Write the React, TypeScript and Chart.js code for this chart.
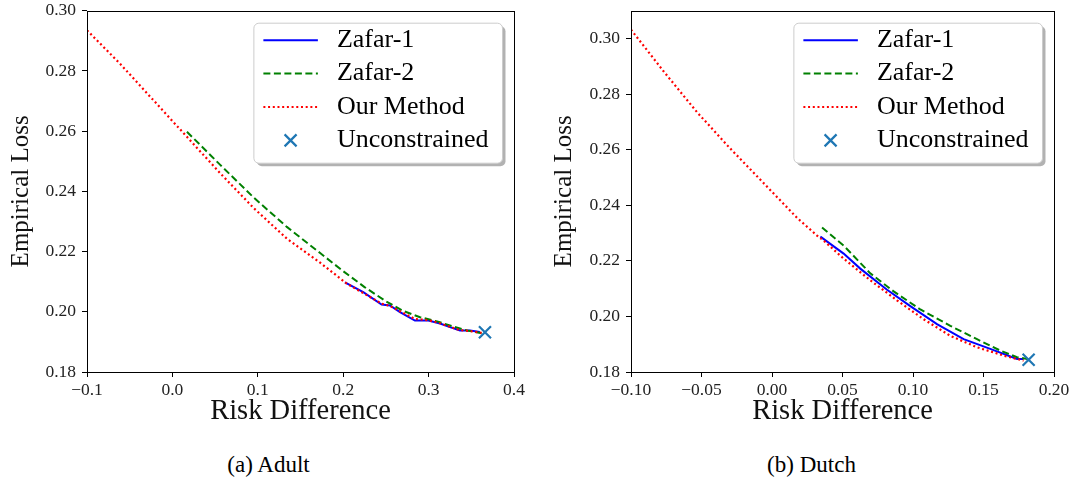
import React, { useEffect, useRef } from 'react';
import { Chart, registerables } from 'chart.js';

Chart.register(...registerables);

const FONT = "'Liberation Serif', 'Times New Roman', serif";

// ---------- (a) Adult ----------
const adultZafar1X = [0.202, 0.2235, 0.245, 0.2548, 0.2665, 0.284, 0.2997, 0.3134, 0.325, 0.3368, 0.3485, 0.36];
const adultZafar1Y = [0.2098, 0.2065, 0.2024, 0.2021, 0.1999, 0.1971, 0.1971, 0.1961, 0.1949, 0.1938, 0.1938, 0.1933];
const adultZafar2X = [0.017, 0.056, 0.095, 0.134, 0.173, 0.2, 0.225, 0.25, 0.27, 0.29, 0.31, 0.33, 0.345, 0.362];
const adultZafar2Y = [0.2598, 0.2488, 0.238, 0.2282, 0.2195, 0.2135, 0.2082, 0.2035, 0.2003, 0.1982, 0.1968, 0.195, 0.1938, 0.1929];
const adultOursX = [-0.1, -0.061, -0.022, 0.017, 0.056, 0.095, 0.134, 0.173, 0.204, 0.2235, 0.245, 0.2548, 0.2665, 0.284, 0.2997, 0.3134, 0.325, 0.3368, 0.3485, 0.362];
const adultOursY = [0.2935, 0.2823, 0.2702, 0.2581, 0.246, 0.2345, 0.2243, 0.2163, 0.2094, 0.2062, 0.2027, 0.2019, 0.2002, 0.1976, 0.1972, 0.1962, 0.195, 0.1939, 0.1936, 0.193];
const adultBaseX = [0.366];
const adultBaseY = [0.1932];
const adultXTicks = [-0.1, 0.0, 0.1, 0.2, 0.3, 0.4];
const adultXTickLabels = ['\u22120.1', '0.0', '0.1', '0.2', '0.3', '0.4'];
const adultYTicks = [0.18, 0.2, 0.22, 0.24, 0.26, 0.28, 0.3];
const adultYTickLabels = ['0.18', '0.20', '0.22', '0.24', '0.26', '0.28', '0.30'];

// ---------- (b) Dutch ----------
const dutchZafar1X = [0.0343, 0.0508, 0.0626, 0.0816, 0.0981, 0.117, 0.1359, 0.1548, 0.1738, 0.1784];
const dutchZafar1Y = [0.2287, 0.2226, 0.2172, 0.2096, 0.2037, 0.1972, 0.1918, 0.1883, 0.1847, 0.1847];
const dutchZafar2X = [0.0355, 0.0508, 0.0697, 0.0863, 0.1052, 0.1265, 0.1454, 0.1619, 0.1738, 0.181];
const dutchZafar2Y = [0.232, 0.2255, 0.2155, 0.209, 0.2025, 0.1966, 0.1918, 0.1877, 0.1853, 0.1847];
const dutchOursX = [-0.1, -0.0769, -0.0532, -0.0296, -0.006, 0.0177, 0.0319, 0.0366, 0.0508, 0.0697, 0.0886, 0.1075, 0.1265, 0.1454, 0.1643, 0.1784];
const dutchOursY = [0.3032, 0.2882, 0.2735, 0.2604, 0.248, 0.2355, 0.2291, 0.2273, 0.2208, 0.213, 0.2058, 0.199, 0.193, 0.1889, 0.1859, 0.1841];
const dutchBaseX = [0.182];
const dutchBaseY = [0.1844];
const dutchXTicks = [-0.1, -0.05, 0.0, 0.05, 0.1, 0.15, 0.2];
const dutchXTickLabels = ['\u22120.10', '\u22120.05', '0.00', '0.05', '0.10', '0.15', '0.20'];
const dutchYTicks = [0.18, 0.2, 0.22, 0.24, 0.26, 0.28, 0.3];
const dutchYTickLabels = ['0.18', '0.20', '0.22', '0.24', '0.26', '0.28', '0.30'];

const seriesLabels = ['Zafar-1', 'Zafar-2', 'Our Method', 'Unconstrained'];

function pts(xs: number[], ys: number[]) {
  return xs.map((x, i) => ({ x, y: ys[i] }));
}

function lineDs(label: string, xs: number[], ys: number[], color: string, dash: number[], width: number, order: number) {
  return {
    label,
    data: pts(xs, ys),
    borderColor: color,
    backgroundColor: color,
    borderWidth: width,
    borderDash: dash,
    pointRadius: 0,
    pointHoverRadius: 0,
    showLine: true,
    fill: false,
    tension: 0,
    order,
  };
}

function roundRect(ctx: CanvasRenderingContext2D, x: number, y: number, w: number, h: number, r: number) {
  ctx.beginPath();
  ctx.moveTo(x + r, y);
  ctx.lineTo(x + w - r, y);
  ctx.arcTo(x + w, y, x + w, y + r, r);
  ctx.lineTo(x + w, y + h - r);
  ctx.arcTo(x + w, y + h, x + w - r, y + h, r);
  ctx.lineTo(x + r, y + h);
  ctx.arcTo(x, y + h, x, y + h - r, r);
  ctx.lineTo(x, y + r);
  ctx.arcTo(x, y, x + r, y, r);
  ctx.closePath();
}

const framePlugin = {
  id: 'frameBox',
  afterDatasetsDraw(chart: any) {
    const { ctx, chartArea } = chart;
    ctx.save();
    ctx.strokeStyle = '#000';
    ctx.lineWidth = 1;
    const l = Math.round(chartArea.left) + 0.5;
    const t = Math.round(chartArea.top) + 0.5;
    const r = Math.round(chartArea.right) + 0.5;
    const b = Math.round(chartArea.bottom) + 0.5;
    ctx.strokeRect(l, t, r - l, b - t);
    ctx.restore();
  },
};

const legendPlugin = {
  id: 'boxLegend',
  afterDraw(chart: any) {
    const { ctx, chartArea } = chart;
    const ds = chart.data.datasets;
    ctx.save();
    ctx.font = `26px ${FONT}`;
    let maxW = 0;
    ds.forEach((d: any) => {
      maxW = Math.max(maxW, ctx.measureText(d.label).width);
    });
    const W = 83 + maxW + 14;
    const H = 140;
    const x0 = chartArea.right - 11.5 - W;
    const y0 = chartArea.top + 12.5;
    roundRect(ctx, x0 + 3, y0 + 3, W, H, 5);
    ctx.fillStyle = 'rgba(0,0,0,0.3)';
    ctx.fill();
    roundRect(ctx, x0, y0, W, H, 5);
    ctx.fillStyle = '#fff';
    ctx.fill();
    ctx.strokeStyle = '#cccccc';
    ctx.lineWidth = 1;
    ctx.stroke();
    ds.forEach((d: any, i: number) => {
      const y = y0 + 17 + i * 33.4;
      if (d.showLine === false) {
        const cx = x0 + 36.7;
        const h = 6;
        ctx.beginPath();
        ctx.strokeStyle = d.pointBorderColor;
        ctx.lineWidth = 2.2;
        ctx.setLineDash([]);
        ctx.moveTo(cx - h, y - h);
        ctx.lineTo(cx + h, y + h);
        ctx.moveTo(cx - h, y + h);
        ctx.lineTo(cx + h, y - h);
        ctx.stroke();
      } else {
        ctx.beginPath();
        ctx.setLineDash(d.borderDash || []);
        ctx.strokeStyle = d.borderColor;
        ctx.lineWidth = d.borderWidth;
        ctx.moveTo(x0 + 9.5, y);
        ctx.lineTo(x0 + 64, y);
        ctx.stroke();
        ctx.setLineDash([]);
      }
      ctx.fillStyle = '#000';
      ctx.textBaseline = 'middle';
      ctx.textAlign = 'left';
      ctx.fillText(d.label, x0 + 83, y);
    });
    ctx.restore();
  },
};

interface PanelCfg {
  z1x: number[]; z1y: number[];
  z2x: number[]; z2y: number[];
  ox: number[]; oy: number[];
  bx: number[]; by: number[];
  xMin: number; xMax: number; yMin: number; yMax: number;
  xTicks: number[]; xTickLabels: string[];
  yTicks: number[]; yTickLabels: string[];
  padTop: number; padRight: number; yAxisWidth: number; yTitlePad: number;
  width: number; height: number;
}

function buildConfig(c: PanelCfg): any {
  const tickFont = { family: FONT, size: 17.5 };
  return {
    type: 'scatter',
    data: {
      datasets: [
        lineDs(seriesLabels[0], c.z1x, c.z1y, '#0000ff', [], 2, 4),
        lineDs(seriesLabels[1], c.z2x, c.z2y, '#008000', [7, 3.5], 2, 3),
        lineDs(seriesLabels[2], c.ox, c.oy, '#ff0000', [2, 2.7], 2.2, 2),
        {
          label: seriesLabels[3],
          data: pts(c.bx, c.by),
          showLine: false,
          pointStyle: 'crossRot',
          pointRadius: 8.5,
          pointHoverRadius: 8.5,
          pointBorderColor: '#1f77b4',
          pointBackgroundColor: '#1f77b4',
          pointBorderWidth: 2.2,
          borderColor: '#1f77b4',
          backgroundColor: '#1f77b4',
          order: 1,
        },
      ],
    },
    options: {
      responsive: false,
      animation: false,
      events: [],
      layout: { padding: { left: 0, top: c.padTop, right: c.padRight, bottom: 0 } },
      plugins: {
        legend: { display: false },
        tooltip: { enabled: false },
      },
      scales: {
        x: {
          type: 'linear',
          min: c.xMin,
          max: c.xMax,
          bounds: 'data',
          afterBuildTicks: (s: any) => {
            s.ticks = c.xTicks.map((v) => ({ value: v }));
          },
          afterFit: (s: any) => {
            s.height = 68;
            s.paddingLeft = 0;
            s.paddingRight = 0;
          },
          ticks: {
            callback: (_v: any, i: number) => c.xTickLabels[i],
            font: tickFont,
            color: '#222',
            padding: 3,
            maxRotation: 0,
            autoSkip: false,
          },
          grid: { drawOnChartArea: false, drawTicks: true, tickLength: 5, color: '#000', lineWidth: 1 },
          border: { display: false },
          title: {
            display: true,
            text: 'Risk Difference',
            color: '#111',
            font: { family: FONT, size: 28.5, lineHeight: 1 },
            padding: { top: 0, bottom: 14.5 },
          },
        },
        y: {
          type: 'linear',
          min: c.yMin,
          max: c.yMax,
          bounds: 'data',
          afterBuildTicks: (s: any) => {
            s.ticks = c.yTicks.map((v) => ({ value: v }));
          },
          afterFit: (s: any) => {
            s.width = c.yAxisWidth;
            s.paddingTop = 0;
            s.paddingBottom = 0;
          },
          ticks: {
            callback: (_v: any, i: number) => c.yTickLabels[i],
            font: tickFont,
            color: '#222',
            padding: 6,
            autoSkip: false,
          },
          grid: { drawOnChartArea: false, drawTicks: true, tickLength: 5, color: '#000', lineWidth: 1 },
          border: { display: false },
          title: {
            display: true,
            text: 'Empirical Loss',
            color: '#111',
            font: { family: FONT, size: 25, lineHeight: 1 },
            padding: { top: c.yTitlePad, bottom: 0 },
          },
        },
      },
    },
    plugins: [framePlugin, legendPlugin],
  };
}

function Panel({ cfg, left }: { cfg: PanelCfg; left: number }) {
  const ref = useRef<HTMLCanvasElement>(null);
  useEffect(() => {
    const chart = new Chart(ref.current as HTMLCanvasElement, buildConfig(cfg));
    return () => chart.destroy();
  }, []);
  return (
    <canvas
      ref={ref}
      width={cfg.width}
      height={cfg.height}
      style={{ position: 'absolute', left, top: 0, width: cfg.width, height: cfg.height }}
    />
  );
}

const adultCfg: PanelCfg = {
  z1x: adultZafar1X, z1y: adultZafar1Y,
  z2x: adultZafar2X, z2y: adultZafar2Y,
  ox: adultOursX, oy: adultOursY,
  bx: adultBaseX, by: adultBaseY,
  xMin: -0.1, xMax: 0.4, yMin: 0.18, yMax: 0.3,
  xTicks: adultXTicks, xTickLabels: adultXTickLabels,
  yTicks: adultYTicks, yTickLabels: adultYTickLabels,
  padTop: 8, padRight: 26, yAxisWidth: 87, yTitlePad: 9,
  width: 540, height: 440,
};

const dutchCfg: PanelCfg = {
  z1x: dutchZafar1X, z1y: dutchZafar1Y,
  z2x: dutchZafar2X, z2y: dutchZafar2Y,
  ox: dutchOursX, oy: dutchOursY,
  bx: dutchBaseX, by: dutchBaseY,
  xMin: -0.1, xMax: 0.2, yMin: 0.18, yMax: 0.31,
  xTicks: dutchXTicks, xTickLabels: dutchXTickLabels,
  yTicks: dutchYTicks, yTickLabels: dutchYTickLabels,
  padTop: 5, padRight: 19, yAxisWidth: 91, yTitlePad: 11.5,
  width: 533, height: 440,
};

const captionStyle: React.CSSProperties = {
  position: 'absolute',
  top: 453,
  fontFamily: FONT,
  fontSize: 23,
  lineHeight: '24px',
  textAlign: 'center',
  color: '#000',
};

export default function App() {
  return (
    <div style={{ position: 'absolute', left: 0, top: 0, width: 1073, height: 481, background: '#fff', overflow: 'hidden' }}>
      <Panel cfg={adultCfg} left={0} />
      <Panel cfg={dutchCfg} left={540} />
      <div style={{ ...captionStyle, left: 0, width: 537 }}>(a) Adult</div>
      <div style={{ ...captionStyle, left: 540, width: 543 }}>(b) Dutch</div>
    </div>
  );
}
